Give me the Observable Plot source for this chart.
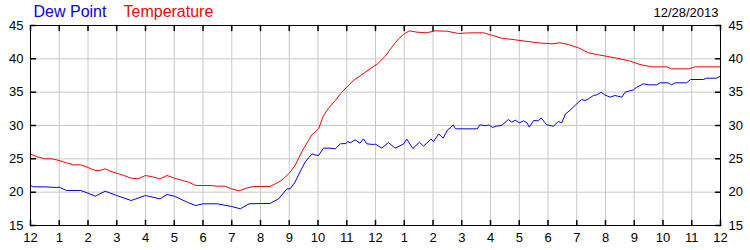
<!DOCTYPE html>
<html>
<head>
<meta charset="utf-8">
<script src="https://cdn.jsdelivr.net/npm/d3@7"></script>
<script src="https://cdn.jsdelivr.net/npm/@observablehq/plot@0.6"></script>
<style>
  html, body { margin: 0; padding: 0; background: #fff; }
</style>
</head>
<body>
<div id="chart"></div>
<script>
// Hours since midnight (0 = 12 AM, 24 = next 12 AM)
const tempHours = [0,0.25,0.5,0.75,1,1.25,1.5,1.75,2,2.25,2.45,2.6,2.8,3,3.25,3.5,3.75,4,4.25,4.5,4.75,5,5.25,5.5,5.75,6,6.25,6.5,6.75,7,7.25,7.5,7.75,8,8.33,8.63,8.8,9.03,9.2,9.44,9.67,9.79,10.02,10.19,10.37,10.6,10.83,11.06,11.23,11.52,11.81,12.08,12.34,12.57,12.8,12.97,13.18,13.44,13.78,14.07,14.48,14.89,15.29,15.76,16.08,16.39,16.86,17.2,17.67,18.13,18.42,18.71,19.06,19.41,19.76,20.08,20.39,20.86,21.2,21.6,22.13,22.3,22.89,23.12,24];
const tempValues = [25.7,25.3,25.0,25.0,24.75,24.4,24.1,24.1,23.7,23.25,23.3,23.5,23.1,22.85,22.5,22.1,22.0,22.5,22.3,22.0,22.5,22.1,21.8,21.5,21.0,21.0,21.0,20.9,20.9,20.5,20.2,20.6,20.85,20.85,20.85,21.5,22.0,23.0,24.0,26.1,27.75,28.6,29.5,31.5,32.6,33.75,35.0,36.0,36.75,37.6,38.5,39.3,40.4,41.75,43.0,43.65,44.2,44.0,43.9,44.2,44.15,43.8,43.9,43.9,43.5,43.1,42.85,42.65,42.4,42.25,42.4,42.15,41.65,40.9,40.6,40.35,40.1,39.65,39.15,38.8,38.8,38.5,38.5,38.8,38.8];

const dewHours = [0,0.1,0.5,0.9,1,1.25,1.75,2,2.25,2.6,3,3.5,4,4.5,4.75,5,5.5,5.75,6,6.5,7,7.3,7.6,8,8.33,8.63,8.92,9.03,9.2,9.37,9.55,9.79,9.88,10.02,10.19,10.42,10.6,10.78,10.97,11.04,11.12,11.29,11.46,11.58,11.7,11.93,12,12.22,12.45,12.68,12.97,13.09,13.3,13.53,13.67,13.93,14.02,14.2,14.35,14.51,14.63,14.7,14.78,15.54,15.63,15.83,15.94,16.07,16.2,16.39,16.62,16.74,16.86,17,17.15,17.27,17.35,17.5,17.67,17.76,17.88,17.96,18.19,18.36,18.48,18.61,18.76,18.94,19.06,19.17,19.29,19.41,19.58,19.7,19.85,19.97,20.16,20.33,20.57,20.68,20.97,21.09,21.32,21.5,21.78,21.9,22.18,22.3,22.42,22.82,22.96,23.4,23.52,23.87,24];
const dewValues = [21.0,20.8,20.8,20.7,20.75,20.25,20.25,19.85,19.4,20.15,19.5,18.75,19.5,19.0,19.65,19.4,18.4,18.0,18.25,18.25,17.85,17.5,18.25,18.3,18.3,19.0,20.5,20.5,21.5,23.0,24.5,25.75,25.6,25.5,26.6,26.6,26.5,27.25,27.3,27.6,27.4,27.85,27.35,28.0,27.25,27.15,27.2,26.6,27.45,26.6,27.2,27.95,26.55,27.5,26.9,27.95,27.6,28.75,28.1,29.35,29.75,30.1,29.5,29.5,30.1,29.95,30.1,29.7,29.9,30.0,30.9,30.5,30.8,30.4,30.7,30.4,29.75,30.75,30.7,31.15,30.5,30.1,29.9,30.6,30.4,31.75,32.25,33.0,33.5,33.9,33.75,34.0,34.5,34.6,35.0,34.6,34.25,34.5,34.25,35.0,35.35,35.75,36.25,36.1,36.1,36.4,36.4,36.1,36.4,36.4,36.9,36.9,37.1,37.1,37.4];

const hourTicks = d3.range(0, 25);
const hourLabels = ["12","1","2","3","4","5","6","7","8","9","10","11","12","1","2","3","4","5","6","7","8","9","10","11","12"];
const yTicks = [15, 20, 25, 30, 35, 40, 45];
const seriesNames = ["Dew Point", "Temperature"];
const dateLabel = "12/28/2013";

const temp = tempHours.map((h, i) => ({h, v: tempValues[i]}));
const dew = dewHours.map((h, i) => ({h, v: dewValues[i]}));

const tickShape = {draw(context, l) { context.moveTo(0, 0); context.lineTo(0, -l); }};

const chart = Plot.plot({
  width: 750,
  height: 250,
  marginLeft: 30,
  marginRight: 30,
  marginTop: 25,
  marginBottom: 25,
  style: {fontFamily: "'Liberation Sans', Arial, sans-serif", fontSize: "13px", background: "#fff", color: "#000"},
  x: {domain: [0, 24], label: null},
  y: {domain: [15, 45], label: null},
  marks: [
    Plot.gridX(hourTicks, {stroke: "#c8c8c8", strokeOpacity: 1}),
    Plot.gridY(yTicks, {stroke: "#c8c8c8", strokeOpacity: 1}),
    Plot.line(dew, {x: "h", y: "v", stroke: "#0000ff", strokeWidth: 1}),
    Plot.line(temp, {x: "h", y: "v", stroke: "#ff0000", strokeWidth: 1}),
    Plot.frame({stroke: "#000"}),
    // inward tick marks on all four sides
    Plot.vector(hourTicks, {x: d => d, frameAnchor: "bottom", rotate: 0, length: 5, anchor: "start", shape: tickShape, stroke: "#000"}),
    Plot.vector(hourTicks, {x: d => d, frameAnchor: "top", rotate: 180, length: 5, anchor: "start", shape: tickShape, stroke: "#000"}),
    Plot.vector(yTicks, {y: d => d, frameAnchor: "left", rotate: 90, length: 5, anchor: "start", shape: tickShape, stroke: "#000"}),
    Plot.vector(yTicks, {y: d => d, frameAnchor: "right", rotate: -90, length: 5, anchor: "start", shape: tickShape, stroke: "#000"}),
    Plot.axisX(hourTicks, {anchor: "bottom", label: null, tickSize: 0, tickPadding: 7, tickFormat: (d, i) => hourLabels[i], fontSize: 13}),
    Plot.axisY(yTicks, {anchor: "left", label: null, tickSize: 0, tickPadding: 7, fontSize: 13}),
    Plot.axisY(yTicks, {anchor: "right", label: null, tickSize: 0, tickPadding: 8, fontSize: 13}),
    Plot.text([seriesNames[0]], {text: d => d, frameAnchor: "top-left", lineAnchor: "top", dx: 3, dy: -20, textAnchor: "start", fill: "#0000ff", fontSize: 16}),
    Plot.text([seriesNames[1]], {text: d => d, frameAnchor: "top-left", lineAnchor: "top", dx: 93, dy: -20, textAnchor: "start", fill: "#ff0000", fontSize: 16}),
    Plot.text([dateLabel], {text: d => d, frameAnchor: "top-right", lineAnchor: "top", dx: -2, dy: -18, textAnchor: "end", fill: "#000", fontSize: 13})
  ]
});
document.getElementById("chart").appendChild(chart);
</script>
</body>
</html>
